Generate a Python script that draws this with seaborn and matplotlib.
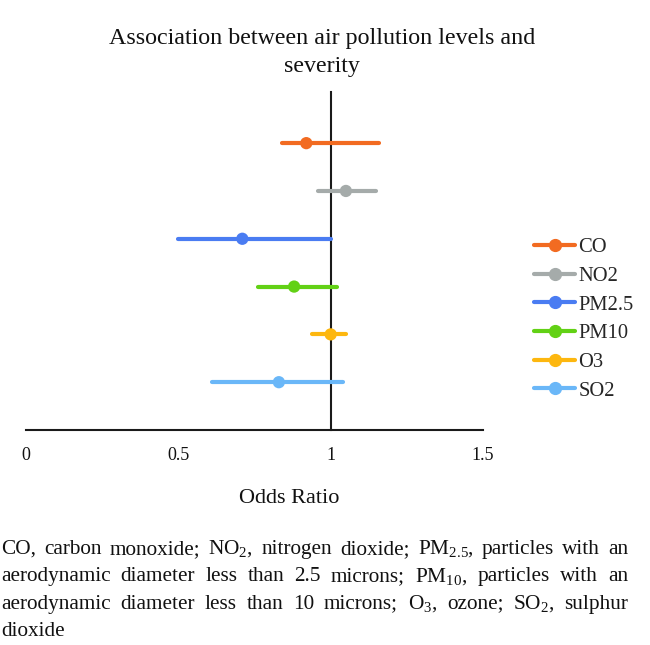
import matplotlib
matplotlib.use("Agg")
import matplotlib.pyplot as plt
import seaborn as sns
import pandas as pd
from matplotlib.lines import Line2D

# ---- data ----
pollutants = ["CO", "NO2", "PM2.5", "PM10", "O3", "SO2"]
odds_ratio = [0.92, 1.05, 0.71, 0.88, 1.00, 0.83]
ci_low = [0.84, 0.96, 0.50, 0.76, 0.94, 0.61]
ci_high = [1.16, 1.15, 1.00, 1.02, 1.05, 1.04]
colors = ["#F26B21", "#A5ABAA", "#4A7CF2", "#62D115", "#FDB70F", "#6AB7F8"]
x_ticks = [0, 0.5, 1, 1.5]
x_tick_labels = ["0", "0.5", "1", "1.5"]
title_lines = ["Association between air pollution levels and", "severity"]
x_label = "Odds Ratio"
caption_lines = [
    ("CO, carbon monoxide; NO$_\\mathregular{2}$, nitrogen dioxide; PM$_\\mathregular{2.5}$, particles with an", True),
    ("aerodynamic diameter less than 2.5 microns; PM$_\\mathregular{10}$, particles with an", True),
    ("aerodynamic diameter less than 10 microns; O$_\\mathregular{3}$, ozone; SO$_\\mathregular{2}$, sulphur", True),
    ("dioxide", False),
]

sns.set_theme(style="white")
plt.rcParams["font.family"] = ["Liberation Serif", "DejaVu Serif"]
plt.rcParams["mathtext.fontset"] = "custom"
plt.rcParams["mathtext.rm"] = "Liberation Serif"
plt.rcParams["mathtext.it"] = "Liberation Serif:italic"
plt.rcParams["mathtext.bf"] = "Liberation Serif:bold"

n = len(pollutants)
df = pd.DataFrame({
    "pollutant": pollutants,
    "or": odds_ratio,
    "lo": ci_low,
    "hi": ci_high,
    "pos": list(range(n, 0, -1)),
})
palette = dict(zip(pollutants, colors))

W, H = 650, 645
fig = plt.figure(figsize=(W / 100, H / 100), dpi=100)
ax = fig.add_axes([26 / W, 215 / H, 457 / W, 338 / H])

ax.hlines(df["pos"], df["lo"], df["hi"], colors=[palette[p] for p in df["pollutant"]],
          linewidth=3.0, capstyle="round", zorder=2)
sns.scatterplot(data=df, x="or", y="pos", hue="pollutant", palette=palette,
                s=78, linewidth=0, legend=False, ax=ax, zorder=3)

ax.set_xlim(0, 1.5)
ax.set_ylim(0, 7.07)
ax.set_xticks(x_ticks)
ax.set_xticklabels(x_tick_labels, fontsize=13, color="#111111")
ax.tick_params(axis="x", length=0, pad=12)
ax.set_yticks([])
ax.set_xlabel("")
ax.set_ylabel("")
for s in ["top", "right"]:
    ax.spines[s].set_visible(False)
ax.spines["left"].set_position(("data", 1))
ax.spines["left"].set_linewidth(1.5)
ax.spines["left"].set_color("#1a1a1a")
ax.spines["bottom"].set_linewidth(1.5)
ax.spines["bottom"].set_color("#1a1a1a")
ax.spines["left"].set_zorder(1)

# x label
fig.text(289 / W, 1 - 503 / H, x_label, ha="center", va="baseline", fontsize=16, color="#111111")

# title
for i, tl in enumerate(title_lines):
    fig.text(322 / W, 1 - (44 + i * 28) / H, tl, ha="center", va="baseline",
             fontsize=17.3, color="#111111")

# legend
handles = [Line2D([0], [0], color=c, lw=3.0, marker="o", markersize=8.5,
                  solid_capstyle="round") for c in colors]
fig.legend(handles, pollutants, loc="upper left", bbox_to_anchor=(534 / W, 1 - 238 / H),
           frameon=False, fontsize=14.8, handlelength=2.0, handletextpad=0.15,
           labelspacing=0.45, borderaxespad=0, borderpad=0)

# justified caption
renderer = fig.canvas.get_renderer()
x0, x1 = 1.0, 628.0
baseline0, dy = 554.0, 27.3
fs_cap = 15.3
space_t = fig.text(0, 0, "a a", fontsize=fs_cap)
aa = fig.text(0, 0, "aa", fontsize=fs_cap)
space_w = space_t.get_window_extent(renderer).width - aa.get_window_extent(renderer).width
space_t.remove(); aa.remove()
for i, (line, justify) in enumerate(caption_lines):
    words = line.split(" ")
    yb = 1 - (baseline0 + i * dy) / H
    texts = [fig.text(0, yb, w, fontsize=fs_cap, va="baseline", ha="left", color="#111111")
             for w in words]
    widths = [t.get_window_extent(renderer).width for t in texts]
    if justify and len(words) > 1:
        gap = (x1 - x0 - sum(widths)) / (len(words) - 1)
    else:
        gap = space_w
    x = x0
    for t, w in zip(texts, widths):
        t.set_x(x / W)
        x += w + gap

fig.savefig("out.png", dpi=100)
